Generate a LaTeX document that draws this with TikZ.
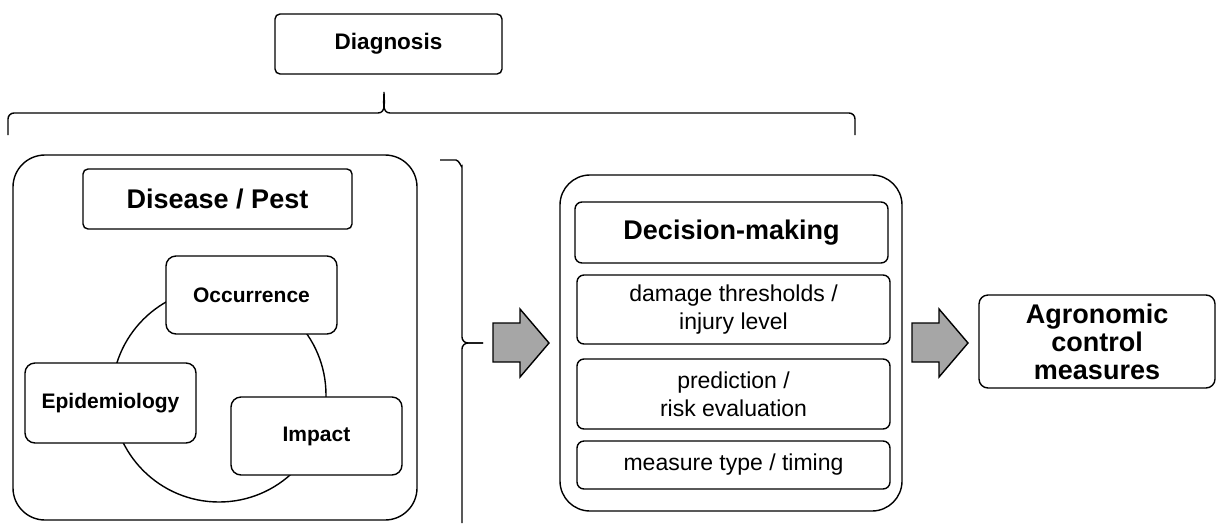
\documentclass[tikz,border=0pt]{standalone}
\usepackage{fontspec}
\setmainfont{Liberation Sans}
\usepackage{xcolor}

\tikzset{
  roundbox/.style={draw, line width=1.4pt, rounded corners=7pt, fill=white, inner sep=0pt, align=center},
  bigframe/.style={draw, line width=1.4pt, rounded corners=32pt, inner sep=0pt},
  bracket/.style={line width=1.4pt},
  blockarrow/.style={draw, line width=1.4pt, line join=miter, fill={rgb,255:red,166;green,166;blue,166}},
}
\newcommand{\headfont}{\fontsize{27}{28}\selectfont\bfseries}
\newcommand{\smallheadfont}{\fontsize{22.5}{26}\selectfont\bfseries}
\newcommand{\itemfont}{\fontsize{21}{24}\selectfont\bfseries}
\newcommand{\listfont}{\fontsize{23}{28}\selectfont}

\begin{document}
\begin{tikzpicture}[x=1pt,y=1pt,yscale=-1]
\useasboundingbox (0,0) rectangle (1217,523);

% Diagnosis title
\node[roundbox, rounded corners=5pt, minimum width=227pt, minimum height=60pt, font=\smallheadfont] (diag) at (388.5,44) {Diagnosis};

% top bracket
\draw[bracket] (8,135) -- (8,119) to[out=-90,in=180] (14,113) -- (378,113) to[out=0,in=90] (384,92)
               to[out=90,in=180] (390,113) -- (849,113) to[out=0,in=-90] (855,119) -- (855,135);

% Disease / Pest frame
\node[bigframe, minimum width=404pt, minimum height=365pt] (pestframe) at (215,337.5) {};
\node[roundbox, rounded corners=5pt, minimum width=269pt, minimum height=60pt, font=\headfont] (pest) at (217.5,199) {Disease / Pest};

% cycle with the three aspects
\node[draw, circle, line width=1.4pt, minimum size=214pt, inner sep=0pt] (ring) at (219,395) {};
\node[roundbox, rounded corners=10pt, minimum width=171pt, minimum height=78pt, font=\itemfont] (occ) at (251.5,295) {Occurrence};
\node[roundbox, rounded corners=10pt, minimum width=171pt, minimum height=80pt, font=\itemfont] (epi) at (110.5,403) {Epidemiology};
\node[roundbox, rounded corners=10pt, minimum width=171pt, minimum height=78pt, font=\itemfont] (imp) at (316.5,436) {Impact};

% right bracket
\draw[bracket] (440,160) -- (456,160) to[out=0,in=90] (462,166) -- (462,337) to[out=90,in=180] (468,343) -- (483,343);
\draw[bracket] (483,343) -- (468,343) to[out=180,in=-90] (462,349) -- (462,523);

% block arrows
\foreach \ax in {493,912}
  \draw[blockarrow] (\ax,323) -- ++(27,0) -- ++(0,-14) -- ++(29,34) -- ++(-29,34) -- ++(0,-15) -- ++(-27,0) -- cycle;

% Decision-making frame
\node[bigframe, rounded corners=30pt, minimum width=342pt, minimum height=336pt] (decframe) at (731,343) {};
\node[roundbox, minimum width=313pt, minimum height=61pt, font=\headfont] (dec) at (731.5,232.5) {Decision-making};
\node[roundbox, minimum width=313pt, minimum height=69pt, font=\listfont] (thresh) at (733.5,309.5) {damage thresholds /\\ injury level};
\node[roundbox, minimum width=313pt, minimum height=70pt, font=\listfont] (risk) at (733.5,394) {prediction /\\ risk evaluation};
\node[roundbox, minimum width=313pt, minimum height=48pt, font=\listfont] (timing) at (733.5,465) {measure type / timing};

% result
\node[roundbox, rounded corners=9pt, minimum width=236pt, minimum height=93pt, font=\headfont] (control) at (1097,341.5) {Agronomic\\ control\\ measures};

\end{tikzpicture}
\end{document}
